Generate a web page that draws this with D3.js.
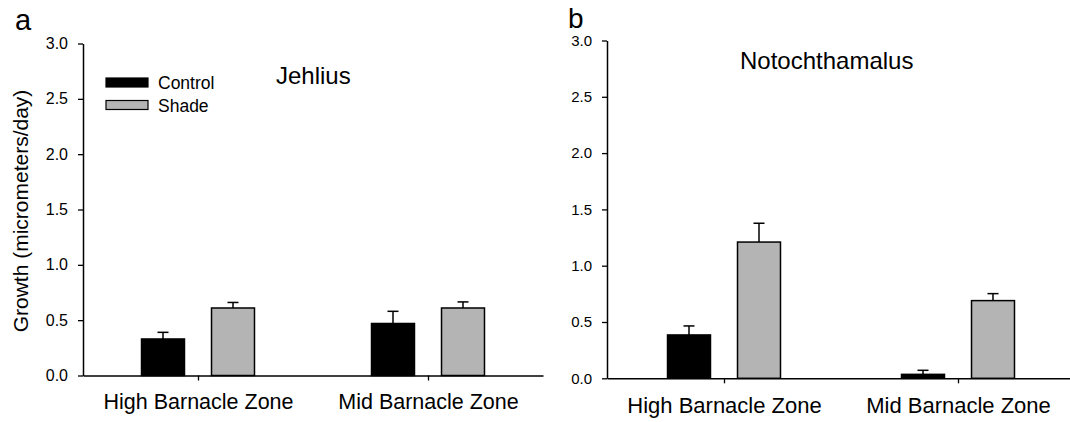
<!DOCTYPE html>
<html>
<head>
<meta charset="utf-8">
<script src="https://cdn.jsdelivr.net/npm/d3@7"></script>
<style>
  html, body { margin: 0; padding: 0; background: #fff; }
  svg { display: block; font-family: "Liberation Sans", Arial, sans-serif; }
</style>
</head>
<body>
<div id="chart"></div>
<script>
// data
const zones = ["High Barnacle Zone", "Mid Barnacle Zone"];
const treatments = ["Control", "Shade"];
const yTicks = [0, 0.5, 1.0, 1.5, 2.0, 2.5, 3.0];

// Jehlius (panel a)
const jehliusControl = [0.33, 0.47];
const jehliusControlErr = [0.06, 0.11];
const jehliusShade = [0.61, 0.61];
const jehliusShadeErr = [0.05, 0.055];

// Notochthamalus (panel b)
const notoControl = [0.385, 0.035];
const notoControlErr = [0.08, 0.036];
const notoShade = [1.21, 0.69];
const notoShadeErr = [0.167, 0.062];

const fills = { Control: "#000000", Shade: "#b4b4b4" };

const width = 1070, height = 422;

const svg = d3.select("#chart")
    .append("svg")
    .attr("width", width)
    .attr("height", height);

function makeRows(control, controlErr, shade, shadeErr) {
    const rows = [];
    zones.forEach((z, i) => {
        rows.push({ zone: z, treat: "Control", value: control[i], err: controlErr[i] });
        rows.push({ zone: z, treat: "Shade", value: shade[i], err: shadeErr[i] });
    });
    return rows;
}

function drawPanel(p) {
    const g = svg.append("g");

    const x = d3.scalePoint()
        .domain(zones)
        .range([p.x0, p.x1])
        .padding(0.5);

    // two bars per zone, centred on the zone tick
    const sub = d3.scaleBand()
        .domain(treatments)
        .range([-70, 70])
        .paddingInner(0.386)
        .paddingOuter(0.193);

    const y = d3.scaleLinear()
        .domain([0, 3])
        .range([p.y0, p.y1]);

    // y axis
    const yAxis = g.append("g")
        .attr("transform", `translate(${p.x0},0)`)
        .call(d3.axisLeft(y).tickValues(yTicks).tickFormat(d3.format(".1f"))
            .tickSize(5).tickSizeOuter(0).tickPadding(p.tickPad));
    yAxis.select(".domain").attr("stroke-width", 1.5);
    yAxis.selectAll(".tick line").attr("stroke-width", 1.3);
    yAxis.selectAll("text")
        .attr("font-size", p.tickFont + "px")
        .attr("font-family", "Liberation Sans, Arial, sans-serif")
        .attr("fill", "#000");

    // bars
    const rows = makeRows(p.control, p.controlErr, p.shade, p.shadeErr);
    const bars = g.selectAll(".bar")
        .data(rows)
        .enter()
        .append("g")
        .attr("class", "bar");

    // error bars (upper only)
    bars.append("line")
        .attr("x1", d => x(d.zone) + sub(d.treat) + sub.bandwidth() / 2)
        .attr("x2", d => x(d.zone) + sub(d.treat) + sub.bandwidth() / 2)
        .attr("y1", d => y(d.value))
        .attr("y2", d => y(d.value + d.err))
        .attr("stroke", "#000")
        .attr("stroke-width", 1.5);
    bars.append("line")
        .attr("x1", d => x(d.zone) + sub(d.treat) + sub.bandwidth() / 2 - 5.5)
        .attr("x2", d => x(d.zone) + sub(d.treat) + sub.bandwidth() / 2 + 5.5)
        .attr("y1", d => y(d.value + d.err))
        .attr("y2", d => y(d.value + d.err))
        .attr("stroke", "#000")
        .attr("stroke-width", 1.5);

    bars.append("rect")
        .attr("x", d => x(d.zone) + sub(d.treat))
        .attr("y", d => y(d.value))
        .attr("width", sub.bandwidth())
        .attr("height", d => y(0) - y(d.value))
        .attr("fill", d => fills[d.treat])
        .attr("stroke", "#000")
        .attr("stroke-width", 1.5);

    // x axis
    const xAxis = g.append("g")
        .attr("transform", `translate(0,${p.y0})`)
        .call(d3.axisBottom(x).tickSize(5).tickSizeOuter(0).tickPadding(p.xPad));
    xAxis.select(".domain").attr("stroke-width", 1.5);
    xAxis.selectAll(".tick line").attr("stroke-width", 1.3);
    xAxis.selectAll("text")
        .attr("font-size", p.xFont + "px")
        .attr("font-family", "Liberation Sans, Arial, sans-serif")
        .attr("fill", "#000");

    // panel title
    g.append("text")
        .attr("x", p.titleX)
        .attr("y", p.titleY)
        .attr("font-size", p.titleFont + "px")
        .attr("fill", "#000")
        .text(p.title);

    // panel letter
    g.append("text")
        .attr("x", p.letterX)
        .attr("y", p.letterY)
        .attr("font-size", p.letterFont + "px")
        .attr("fill", "#000")
        .text(p.letter);

    return g;
}

drawPanel({
    x0: 83, x1: 543, y0: 375.5, y1: 43.5,
    control: jehliusControl, controlErr: jehliusControlErr,
    shade: jehliusShade, shadeErr: jehliusShadeErr,
    tickFont: 16, tickPad: 10, xFont: 21.5, xPad: 13,
    title: "Jehlius", titleX: 276, titleY: 84, titleFont: 24,
    letter: "a", letterX: 15, letterY: 30, letterFont: 29
});

drawPanel({
    x0: 607, x1: 1075, y0: 378.3, y1: 40.5,
    control: notoControl, controlErr: notoControlErr,
    shade: notoShade, shadeErr: notoShadeErr,
    tickFont: 15, tickPad: 10, xFont: 22, xPad: 14,
    title: "Notochthamalus", titleX: 740, titleY: 69, titleFont: 24,
    letter: "b", letterX: 568, letterY: 27.5, letterFont: 28
});

// y-axis label (panel a only)
svg.append("text")
    .attr("transform", "translate(28,211) rotate(-90)")
    .attr("text-anchor", "middle")
    .attr("font-size", "21px")
    .attr("fill", "#000")
    .text("Growth (micrometers/day)");

// legend
const legend = svg.append("g")
    .attr("transform", "translate(106,78)");

treatments.forEach((t, i) => {
    const row = legend.append("g")
        .attr("transform", `translate(0, ${i * 22.5})`);
    row.append("rect")
        .attr("width", 42)
        .attr("height", 9)
        .attr("fill", fills[t])
        .attr("stroke", "#000")
        .attr("stroke-width", 1.2);
    row.append("text")
        .attr("x", 52)
        .attr("y", 5)
        .attr("dy", "0.35em")
        .attr("font-size", "17.5px")
        .attr("fill", "#000")
        .text(t);
});
</script>
</body>
</html>
